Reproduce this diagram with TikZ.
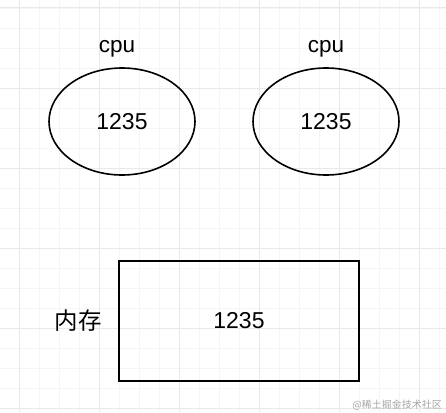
\documentclass[tikz,border=0pt]{standalone}
\usepackage{fontspec}
\setmainfont{Liberation Sans}
\newfontfamily\cjk{Noto Sans CJK SC}
\usepackage{xcolor}
\usepackage{tikz}
\usetikzlibrary{shapes, positioning}

\definecolor{gridmajor}{HTML}{E9E9E9}
\definecolor{gridminor}{HTML}{F5F5F5}

\begin{document}
\begin{tikzpicture}[
    x=1pt, y=-1pt,
    cpubox/.style={
        draw, ellipse, line width=1.6pt,
        minimum width=146pt,
        minimum height=107pt,
        inner sep=0pt,
        font=\fontsize{23}{26}\selectfont
    },
    membox/.style={
        draw, rectangle, line width=1.7pt,
        minimum width=240pt,
        minimum height=120pt,
        inner sep=0pt,
        font=\fontsize{23}{26}\selectfont
    },
    lbl/.style={inner sep=0pt, font=\fontsize{22.5}{26}\selectfont},
    minorline/.style={draw=gridminor, line width=0.8pt},
    majorline/.style={draw=gridmajor, line width=1pt}
]
\useasboundingbox[fill=white] (0,0) rectangle (446,412);

% Grid
\foreach \gx in {19,39,...,439} {
    \draw[minorline] (\gx,0) -- (\gx,412);
}
\foreach \gy in {8,28,...,408} {
    \draw[minorline] (0,\gy) -- (446,\gy);
}
\foreach \gx in {19,99,...,419} {
    \draw[majorline] (\gx,0) -- (\gx,412);
}
\foreach \gy in {8,88,...,408} {
    \draw[majorline] (0,\gy) -- (446,\gy);
}

% ------- cpu -------
\node[cpubox] (cpuA) at (122, 121.5) {1235};
\node[cpubox] (cpuB) at (326, 121.5) {1235};
\node[lbl, above=10pt of cpuA, xshift=-5pt] (cpuAlbl) {cpu};
\node[lbl, above=10pt of cpuB] (cpuBlbl) {cpu};

% ------- memory -------
\node[membox] (mem) at (239, 321) {1235};
\node[lbl, left=16pt of mem, font=\cjk\fontsize{23.5}{26}\selectfont] (memlbl) {内存};

% watermark
\node[inner sep=0pt, anchor=south east, text=black!35,
      font=\cjk\fontsize{10}{12}\selectfont] (mark) at (442, 410) {@稀土掘金技术社区};
\end{tikzpicture}
\end{document}
